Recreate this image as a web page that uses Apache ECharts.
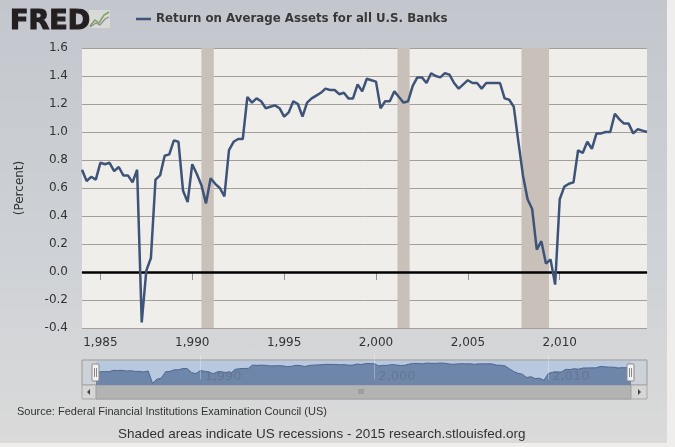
<!DOCTYPE html>
<html>
<head>
<meta charset="utf-8">
<script src="https://cdn.jsdelivr.net/npm/echarts@6/dist/echarts.min.js"></script>
<style>
  html, body { margin: 0; padding: 0; background: #efeeec; }
  #frame { position: absolute; left: 0; top: 0; width: 667px; height: 443px;
           background: linear-gradient(#c3c7cd, #cfd2d6 60%, #dadada); }
  #main { position: absolute; left: 0; top: 0; width: 675px; height: 447px; }
</style>
</head>
<body>
<div id="frame"></div>
<div id="main"></div>
<script>
// quarterly return on average assets, percent, 1984 Q1 .. 2014 Q4
const returnOnAssets = [
  0.73, 0.65, 0.68, 0.66, 0.78, 0.77, 0.78, 0.72, 0.75, 0.69, 0.69, 0.64, 0.73, -0.36, 0.01, 0.10, 0.66, 0.69, 0.83, 0.84, 0.94, 0.93,
  0.58, 0.50, 0.77, 0.70, 0.62, 0.49, 0.67, 0.63, 0.60, 0.54, 0.87, 0.93, 0.95, 0.95, 1.25, 1.21, 1.24, 1.22, 1.17, 1.18,
  1.19, 1.17, 1.11, 1.14, 1.22, 1.20, 1.11, 1.21, 1.24, 1.26, 1.28, 1.31, 1.30, 1.30, 1.27, 1.28, 1.24, 1.24, 1.34, 1.29,
  1.38, 1.37, 1.36, 1.17, 1.22, 1.22, 1.29, 1.25, 1.21, 1.22, 1.33, 1.39, 1.39, 1.35, 1.42, 1.40, 1.39, 1.42, 1.41, 1.35,
  1.31, 1.34, 1.37, 1.35, 1.35, 1.31, 1.35, 1.35, 1.35, 1.35, 1.24, 1.23, 1.18, 0.93, 0.69, 0.52, 0.45, 0.16, 0.22, 0.06, 0.09, -0.09,
  0.52, 0.61, 0.63, 0.64, 0.87, 0.85, 0.93, 0.88, 0.99, 0.99, 1.00, 1.00, 1.13, 1.09, 1.06, 1.06, 0.99, 1.02, 1.01, 1.00
];
const startYear = 1984;
const quarterDates = returnOnAssets.map((v, i) => startYear + i * 0.25);

// recession start / end as fractional years
const recessions = [[1990.5, 1991.17], [2001.17, 2001.83], [2007.92, 2009.42]];

const yearTicks = [1985, 1990, 1995, 2000, 2005, 2010];
const navigatorTicks = [1990, 2000, 2010];

const seriesName = 'Return on Average Assets for all U.S. Banks';
const lineColor = '#3d5478';
const font = 'DejaVu Sans';

const chart = echarts.init(document.getElementById('main'));

const points = quarterDates.map((d, i) => [d, returnOnAssets[i]]);

const option = {
  animation: false,
  title: {
    text: 'FRED',
    left: 5,
    top: 3,
    textStyle: { fontFamily: font, fontSize: 27, fontWeight: 'bold', color: '#231f20',
                 textBorderColor: '#231f20', textBorderWidth: 1.2 }
  },
  legend: {
    data: [seriesName],
    left: 131,
    top: 8,
    icon: 'rect',
    itemWidth: 15,
    itemHeight: 2.5,
    itemGap: 6,
    textStyle: { fontFamily: font, fontSize: 11.8, fontWeight: 'bold', color: '#383838' }
  },
  grid: [
    { left: 82, right: 28, top: 48, bottom: 119, show: true, backgroundColor: '#f0eeeb', borderWidth: 0 },
    { left: 96, right: 44, top: 361, height: 24, show: true, backgroundColor: '#b7c8df', borderWidth: 0 }
  ],
  xAxis: [
    {
      type: 'value',
      gridIndex: 0,
      min: 1984,
      max: 2014.75,
      splitLine: { show: false },
      axisLine: { lineStyle: { color: '#8f8f8f', width: 1 } },
      axisTick: { customValues: yearTicks, length: 8, lineStyle: { color: '#8f8f8f' } },
      axisLabel: { customValues: yearTicks, margin: 9, fontFamily: font, fontSize: 12, color: '#333' }
    },
    {
      type: 'value',
      gridIndex: 1,
      min: 1984,
      max: 2014.75,
      z: 10,
      splitLine: { show: false },
      axisLine: { show: false },
      axisTick: { customValues: navigatorTicks, inside: true, length: 24, lineStyle: { color: 'rgba(255,255,255,0.3)' } },
      axisLabel: {
        customValues: navigatorTicks, inside: true, align: 'left', margin: 2,
        padding: [0, 0, 0, 4], fontFamily: font, fontSize: 13, color: 'rgba(100,115,140,0.8)'
      }
    }
  ],
  yAxis: [
    {
      type: 'value',
      gridIndex: 0,
      min: -0.4,
      max: 1.6,
      interval: 0.2,
      name: '(Percent)',
      nameLocation: 'middle',
      nameGap: 56,
      nameTextStyle: { fontFamily: font, fontSize: 12, color: '#333' },
      axisLine: { show: false },
      axisTick: { show: false },
      axisLabel: { margin: 14, fontFamily: font, fontSize: 12, color: '#333',
                   formatter: v => v.toFixed(1) },
      splitLine: { lineStyle: { color: '#a59f99', width: 1 } }
    },
    {
      type: 'value',
      gridIndex: 1,
      min: -0.5,
      max: 1.6,
      show: false
    }
  ],
  series: [
    {
      name: seriesName,
      type: 'line',
      xAxisIndex: 0,
      yAxisIndex: 0,
      data: points,
      showSymbol: false,
      lineStyle: { color: lineColor, width: 2.5 },
      itemStyle: { color: lineColor },
      z: 5,
      markArea: {
        silent: true,
        itemStyle: { color: '#c9c0ba' },
        data: recessions.map(r => [{ xAxis: r[0] }, { xAxis: r[1] }])
      },
      markLine: {
        silent: true,
        symbol: 'none',
        label: { show: false },
        lineStyle: { color: '#000', width: 2.5, type: 'solid' },
        data: [{ yAxis: 0 }]
      }
    },
    {
      name: 'navigator',
      type: 'line',
      xAxisIndex: 1,
      yAxisIndex: 1,
      data: points,
      showSymbol: false,
      lineStyle: { color: '#4d6790', width: 1 },
      areaStyle: { color: '#6f86ab', opacity: 1, origin: 'start' }
    }
  ],
  graphic: [
    // little graph icon next to the logo
    { type: 'rect', shape: { x: 89, y: 10, width: 21, height: 18 }, style: { fill: '#d7dad6' } },
    { type: 'polyline', shape: { points: [[90, 26], [95, 20], [99, 23], [104, 15], [109, 12]] },
      style: { stroke: '#7fa05a', lineWidth: 1.5, fill: null } },
    { type: 'polyline', shape: { points: [[90, 27], [96, 23], [100, 25], [105, 19], [109, 17]] },
      style: { stroke: '#8c8c8c', lineWidth: 1.2, fill: null } },
    // navigator frame
    { type: 'rect', shape: { x: 82, y: 360, width: 565, height: 25 },
      style: { fill: '#cdd2d9', stroke: '#9a9a9a', lineWidth: 1 }, z: -1 },
    // scrollbar
    { type: 'rect', shape: { x: 82, y: 385, width: 565, height: 14 },
      style: { fill: '#d6d6d6', stroke: '#a8a8a8', lineWidth: 1 } },
    { type: 'rect', shape: { x: 96, y: 385, width: 535, height: 14 },
      style: { fill: '#b3b3b3', stroke: '#a0a0a0', lineWidth: 1 } },
    { type: 'text', x: 361, y: 392, style: { text: 'III', fill: '#7a7a7a', font: '7px DejaVu Sans', align: 'center', verticalAlign: 'middle' } },
    { type: 'polygon', shape: { points: [[90, 389], [90, 395], [87, 392]] }, style: { fill: '#444' } },
    { type: 'polygon', shape: { points: [[638, 389], [638, 395], [641, 392]] }, style: { fill: '#444' } },
    // navigator handles
    { type: 'rect', shape: { x: 92, y: 364, width: 7, height: 17, r: 1 },
      style: { fill: '#f2f2f2', stroke: '#8a8a8a', lineWidth: 1 }, z: 10 },
    { type: 'rect', shape: { x: 627, y: 364, width: 7, height: 17, r: 1 },
      style: { fill: '#f2f2f2', stroke: '#8a8a8a', lineWidth: 1 }, z: 10 },
    { type: 'line', shape: { x1: 94.5, y1: 368, x2: 94.5, y2: 377 }, style: { stroke: '#888' }, z: 11 },
    { type: 'line', shape: { x1: 96.5, y1: 368, x2: 96.5, y2: 377 }, style: { stroke: '#888' }, z: 11 },
    { type: 'line', shape: { x1: 629.5, y1: 368, x2: 629.5, y2: 377 }, style: { stroke: '#888' }, z: 11 },
    { type: 'line', shape: { x1: 631.5, y1: 368, x2: 631.5, y2: 377 }, style: { stroke: '#888' }, z: 11 },
    // footer texts
    { type: 'text', left: 17, top: 406,
      style: { text: 'Source: Federal Financial Institutions Examination Council (US)',
               font: '11px "Liberation Sans"', fill: '#333' } },
    { type: 'text', left: 118, top: 427,
      style: { text: 'Shaded areas indicate US recessions - 2015 research.stlouisfed.org',
               font: '13.5px "Liberation Sans"', fill: '#333' } }
  ]
};

chart.setOption(option);
</script>
</body>
</html>
